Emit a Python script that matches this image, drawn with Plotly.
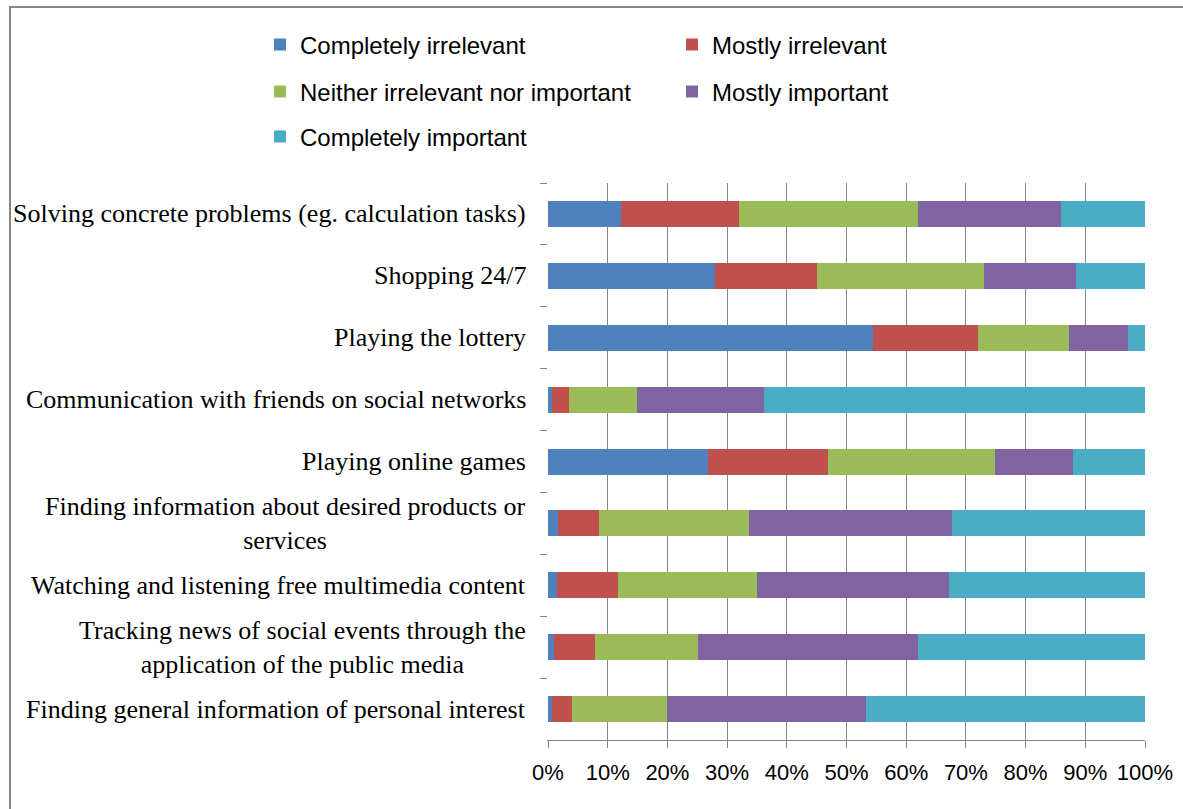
import plotly.graph_objects as go

categories = [
    "Solving concrete problems (eg. calculation tasks)",
    "Shopping 24/7",
    "Playing the lottery",
    "Communication with friends on social networks",
    "Playing online games",
    "Finding information about desired products or<br>services",
    "Watching and listening free multimedia content",
    "Tracking news of social events through the<br>application of the public media",
    "Finding general information of personal interest",
]

series_names = [
    "Completely irrelevant",
    "Mostly irrelevant",
    "Neither irrelevant nor important",
    "Mostly important",
    "Completely important",
]

completely_irrelevant = [12.3, 27.9, 54.5, 0.7, 26.8, 1.7, 1.5, 1.0, 0.7]
mostly_irrelevant = [19.7, 17.2, 17.6, 2.9, 20.1, 6.9, 10.2, 6.9, 3.3]
neither = [29.9, 28.0, 15.2, 11.3, 28.0, 25.1, 23.3, 17.2, 16.0]
mostly_important = [24.1, 15.3, 9.8, 21.2, 13.0, 34.0, 32.2, 36.8, 33.3]
completely_important = [14.0, 11.6, 2.9, 63.9, 12.1, 32.3, 32.8, 38.1, 46.7]

x_tick_vals = [0, 10, 20, 30, 40, 50, 60, 70, 80, 90, 100]
x_tick_text = ["0%", "10%", "20%", "30%", "40%", "50%", "60%", "70%", "80%", "90%", "100%"]

colors = ["#4F81BD", "#C0504D", "#9BBB59", "#8064A2", "#4BACC6"]
values = [completely_irrelevant, mostly_irrelevant, neither, mostly_important, completely_important]
legend_ids = ["legend", "legend2", "legend3", "legend4", "legend5"]
# legend grid: (column, row)
legend_pos = [(0, 0), (1, 0), (0, 1), (1, 1), (0, 2)]

W, H = 1183, 809
ML, MR, MT, MB = 548, 38, 183, 69

fig = go.Figure()
for name, vals, col, lg in zip(series_names, values, colors, legend_ids):
    fig.add_trace(go.Bar(
        y=categories, x=vals, name=name, orientation="h",
        marker=dict(color=col, line=dict(width=0)),
        legend=lg, hoverinfo="x+name",
    ))

legend_common = dict(
    orientation="h", xref="container", yref="container",
    xanchor="left", yanchor="middle",
    font=dict(family="Liberation Sans", size=24, color="#000000"),
    bgcolor="rgba(0,0,0,0)", itemclick=False, traceorder="normal",
)
col_x = [260, 672]
row_y = [45, 92, 137]
legend_layouts = {}
for lg, (c, r) in zip(legend_ids, legend_pos):
    legend_layouts[lg] = dict(legend_common, x=col_x[c] / W, y=1 - row_y[r] / H)

annotations = []
for cat in categories:
    annotations.append(dict(
        xref="paper", yref="y", x=0, y=cat, xanchor="right", yanchor="middle",
        xshift=-20, text=cat, showarrow=False, align="center",
        font=dict(family="Liberation Serif", size=26, color="#000000"),
    ))

pw = W - ML - MR
ph = H - MT - MB
def px_to_paper_x(px):
    return (px - ML) / pw
def px_to_paper_y(py):
    return (H - MB - py) / ph

fig.update_layout(
    width=W, height=H,
    margin=dict(l=ML, r=MR, t=MT, b=MB, autoexpand=False),
    barmode="stack", bargap=0.58,
    plot_bgcolor="white", paper_bgcolor="white",
    xaxis=dict(
        range=[0, 100], tickvals=x_tick_vals, ticktext=x_tick_text,
        showgrid=True, gridcolor="#868686", gridwidth=1, zeroline=False,
        showline=True, linecolor="#868686", linewidth=1,
        ticks="outside", ticklen=7, tickcolor="#868686",
        ticklabelstandoff=6,
        tickfont=dict(family="Liberation Sans", size=22, color="#000000"),
        fixedrange=True,
    ),
    yaxis=dict(
        autorange="reversed", showticklabels=False, showgrid=False,
        zeroline=False, showline=True, linecolor="white", linewidth=1,
        ticks="outside", tickson="boundaries", ticklen=7, tickcolor="#868686",
        layer="below traces", fixedrange=True,
    ),
    annotations=annotations,
    shapes=[dict(
        type="rect", xref="paper", yref="paper",
        x0=px_to_paper_x(10), x1=px_to_paper_x(1195),
        y0=px_to_paper_y(820), y1=px_to_paper_y(7),
        line=dict(color="#868686", width=2), fillcolor="rgba(0,0,0,0)",
        layer="below",
    )],
    showlegend=True,
    **legend_layouts,
)

fig.write_html("out.html")
